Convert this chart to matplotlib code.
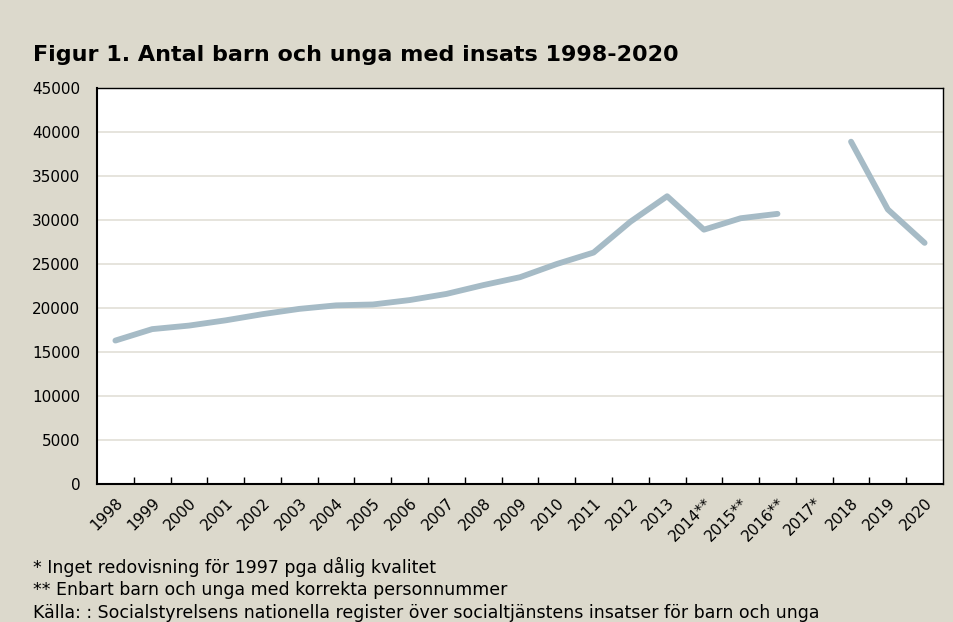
import numpy as np
import matplotlib
matplotlib.use("Agg")
import matplotlib.pyplot as plt

years = ["1998", "1999", "2000", "2001", "2002", "2003", "2004", "2005",
         "2006", "2007", "2008", "2009", "2010", "2011", "2012", "2013",
         "2014**", "2015**", "2016**", "2017*", "2018", "2019", "2020"]
antal = [16300, 17600, 18000, 18600, 19300, 19900, 20300, 20400,
         20900, 21600, 22600, 23500, 25000, 26300, 29800, 32700,
         28900, 30200, 30700, np.nan, 38900, 31200, 27400]
y_ticks = list(range(0, 45001, 5000))

title = "Figur 1. Antal barn och unga med insats 1998-2020"
notes = ["* Inget redovisning för 1997 pga dålig kvalitet",
         "** Enbart barn och unga med korrekta personnummer",
         "Källa: : Socialstyrelsens nationella register över socialtjänstens insatser för barn och unga"]

bg = "#dcd9cc"
plt.rcParams['font.family'] = ['DejaVu Sans']

fig = plt.figure(figsize=(9.54, 6.22), dpi=100, facecolor=bg)
ax = fig.add_axes([97 / 954, 1 - 484 / 622, 846 / 954, 396 / 622])
ax.set_facecolor("white")

x = np.arange(len(years))
ax.plot(x, antal, color="#a6bbc6", linewidth=4.2, solid_capstyle="round",
        solid_joinstyle="round", zorder=3)

ax.set_xlim(-0.5, len(years) - 0.5)
ax.set_ylim(0, 45000)
ax.set_yticks(y_ticks)
ax.set_yticklabels([str(v) for v in y_ticks], fontsize=11)
ax.grid(axis="y", color="#e4e2da", linewidth=1.3, zorder=0)
ax.tick_params(axis="y", length=0, pad=12)

ax.set_xticks(x)
ax.set_xticklabels(years, rotation=45, ha="right", rotation_mode="anchor", fontsize=11)
ax.tick_params(axis="x", which="major", length=0, pad=8)
ax.set_xticks(np.arange(-0.5, len(years), 1.0)[1:-1], minor=True)
ax.tick_params(axis="x", which="minor", direction="in", length=5, width=1, color="black")

for s in ax.spines.values():
    s.set_color("black")
    s.set_linewidth(1.0)
ax.spines["left"].set_linewidth(1.5)
ax.spines["bottom"].set_linewidth(1.5)

fig.text(33 / 954, 1 - 55 / 622, title, fontsize=16, fontweight="bold",
         va="center", ha="left")
for i, n in enumerate(notes):
    fig.text(33 / 954, 1 - (567 + i * 23) / 622, n, fontsize=12.5,
             va="center", ha="left")

fig.savefig("out.png", dpi=100, facecolor=bg)
